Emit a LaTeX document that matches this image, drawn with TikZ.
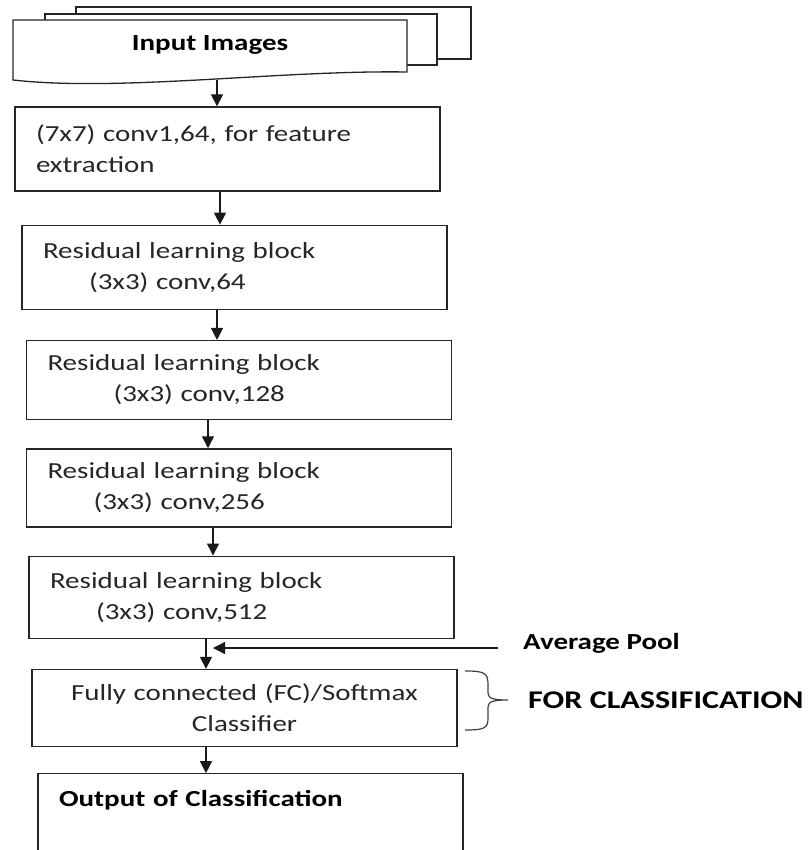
\documentclass[tikz,border=0pt]{standalone}
\usepackage{fontspec}
\setmainfont{Carlito}[FakeStretch=1.26]
\usepackage{xcolor}
\usetikzlibrary{positioning,arrows.meta}

\begin{document}
\begin{tikzpicture}[
 x=1pt, y=1pt,
 box/.style={rectangle, draw=black!85, line width=1.3pt, fill=white, minimum width=425pt, text width=383pt, inner xsep=21pt, inner ysep=0pt, align=left, text=black!85, font=\fontsize{23}{31}\selectfont},
 sheet/.style={draw=black!85, line width=1.3pt, fill=white},
 label/.style={inner sep=0pt, text=black, font=\fontsize{23}{31}\selectfont\bfseries},
 arrow/.style={-{Triangle[length=12pt,width=12pt]}, line width=1.3pt, draw=black!90},
 brace/.style={draw=black!75, line width=1.2pt}
 ]
 \useasboundingbox (0,0) rectangle (809,-850);
 % Input sheets
 \draw[sheet] (76,-7) rectangle (471,-59);
 \draw[sheet] (45,-14) rectangle (437,-65);
 \draw[sheet] (13,-20) -- (407,-20) -- (407,-72) .. controls (280,-70) and (120,-92) .. (13,-80) -- cycle;
 % Nodes
 \node[label, minimum width=394pt, minimum height=52pt] (input) at (210,-45) {Input Images};
 \node[box, minimum height=84pt] (conv) at (227.5,-149) {(7x7) conv1,64, for feature\\extraction};
 \node[box, minimum height=84pt, below=33pt of conv, xshift=7pt] (res64) {Residual learning block\\\hspace*{46pt}(3x3) conv,64};
 \node[box, minimum height=79pt, below=30pt of res64, xshift=4.5pt] (res128) {Residual learning block\\\hspace*{66pt}(3x3) conv,128};
 \node[box, minimum height=78pt, below=28pt of res128] (res256) {Residual learning block\\\hspace*{46pt}(3x3) conv,256};
 \node[box, minimum height=82pt, below=28pt of res256, xshift=2.5pt] (res512) {Residual learning block\\\hspace*{46pt}(3x3) conv,512};
 \node[box, minimum height=77pt, below=30pt of res512, xshift=3pt, align=center] (fc) {Fully connected (FC)/Softmax\\Classifier};
 \node[box, minimum height=84pt, below=26pt of fc, xshift=6pt, text=black, font=\fontsize{23}{31}\selectfont\bfseries, text depth=34pt] (out) {Output of Classification};
 \node[label, anchor=west] (pool) at (523,-643) {Average Pool};
 \node[label, anchor=west, font=\fontsize{25.5}{30}\selectfont\bfseries] (forcls) at (528,-700) {FOR CLASSIFICATION};
 \coordinate (poolend) at (213,-648);
 % Arrows
 \draw[arrow] ([xshift=7pt,yshift=-9pt]input.south) -- ([xshift=-10.5pt]conv.north);
 \draw[arrow] ([xshift=-7.5pt]conv.south) -- ([xshift=-14.5pt]res64.north);
 \draw[arrow] ([xshift=-17.5pt]res64.south) -- ([xshift=-22pt]res128.north);
 \draw[arrow] ([xshift=-31pt]res128.south) -- ([xshift=-31pt]res256.north);
 \draw[arrow] ([xshift=-26pt]res256.south) -- ([xshift=-28.5pt]res512.north);
 \draw[arrow] ([xshift=-35.5pt]res512.south) -- ([xshift=-38.5pt]fc.north);
 \draw[arrow] ([xshift=-38.5pt]fc.south) -- ([xshift=-44.5pt]out.north);
 % Average pool arrow
 \draw[arrow] ([xshift=-25pt,yshift=-5pt]pool.west) -- (poolend);
 % Brace round the classifier
 \draw[brace] (465,-671) .. controls (485,-671) and (488,-673) .. (488,-685) -- (488,-693) .. controls (488,-699) and (495,-700) .. (508,-700) .. controls (495,-700) and (488,-701) .. (488,-707) -- (488,-718) .. controls (488,-728) and (485,-730) .. (465,-730);
\end{tikzpicture}
\end{document}
